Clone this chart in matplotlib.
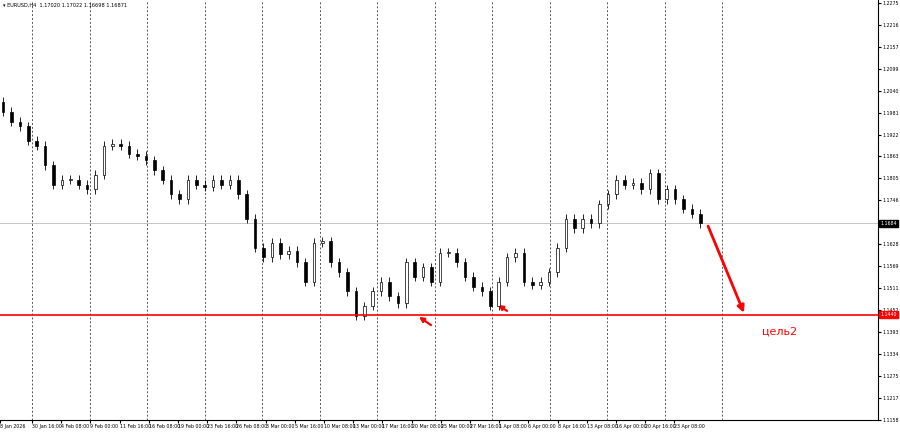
import matplotlib.pyplot as plt
from matplotlib.patches import Rectangle
import numpy as np

# H4 closes (EURUSD)
first_open = 1.2010
closes = [1.1983, 1.1957, 1.1944, 1.1905, 1.1892, 1.1840, 1.1788, 1.1801, 1.1801, 1.1788,
          1.1775, 1.1814, 1.1892, 1.1897, 1.1892, 1.1871, 1.1866, 1.1853, 1.1827, 1.1801,
          1.1762, 1.1749, 1.1801, 1.1788, 1.1783, 1.1801, 1.1788, 1.1801, 1.1762, 1.1697,
          1.1619, 1.1593, 1.1632, 1.1601, 1.1611, 1.1580, 1.1528, 1.1632, 1.1637, 1.1580,
          1.1554, 1.1502, 1.1437, 1.1463, 1.1502, 1.1528, 1.1489, 1.1471, 1.1580, 1.1541,
          1.1567, 1.1528, 1.1606, 1.1606, 1.1580, 1.1541, 1.1515, 1.1502, 1.1463, 1.1528,
          1.1593, 1.1606, 1.1528, 1.1520, 1.1528, 1.1554, 1.1619, 1.1697, 1.1671, 1.1697,
          1.1684, 1.1736, 1.1762, 1.1801, 1.1788, 1.1793, 1.1775, 1.1819, 1.1749, 1.1775,
          1.1749, 1.1723, 1.1710, 1.1684]
date_labels = ["8 Jan 2026", "30 Jan 16:00", "4 Feb 08:00", "9 Feb 00:00", "11 Feb 16:00",
               "16 Feb 08:00", "19 Feb 00:00", "23 Feb 16:00", "26 Feb 08:00", "3 Mar 00:00",
               "5 Mar 16:00", "10 Mar 08:00", "13 Mar 00:00", "17 Mar 16:00", "20 Mar 08:00",
               "25 Mar 00:00", "27 Mar 16:00", "1 Apr 08:00", "6 Apr 00:00", "8 Apr 16:00",
               "13 Apr 08:00", "16 Apr 00:00", "20 Apr 16:00", "23 Apr 08:00"]
target = 1.1440
last_price = 1.1684

fig = plt.figure(figsize=(9, 4.38), dpi=100)
ax = fig.add_axes([0, 18 / 438, 878 / 900, 420 / 438])
ax.set_xlim(0, 878)
ax.set_ylim(1.22824 - 420 * 0.00026, 1.22824)

step = 8.4
opens = [first_open] + closes[:-1]
for i, (o, c) in enumerate(zip(opens, closes)):
    x = 3 + i * step
    ax.vlines(x, min(o, c) - 0.0012, max(o, c) + 0.0012, color='black', lw=0.6, zorder=3)
    ax.add_patch(Rectangle((x - 1.3, min(o, c)), 2.6, max(abs(c - o), 0.0002),
                           facecolor='white' if c >= o else 'black', edgecolor='black', lw=0.5, zorder=4))

# grid / date ticks
grid_x = 32 + 57.5 * np.arange(13)
for gx in grid_x:
    ax.axvline(gx, color='#555555', ls=(0, (2, 2)), lw=0.7, zorder=1)
tick_x = [0] + list(32 + 29.2 * np.arange(len(date_labels) - 1))
ax.set_xticks(tick_x)
ax.set_xticklabels(date_labels, fontsize=3.4, ha='left')
ax.tick_params(axis='x', length=2, pad=1)

yt = 1.2275 - 0.00588 * np.arange(20)
ax.yaxis.tick_right()
ax.set_yticks(yt)
ax.set_yticklabels([f"{v:.4f}" for v in yt], fontsize=3.4)
ax.tick_params(axis='y', length=2, pad=1)
for s in ['top', 'left']:
    ax.spines[s].set_visible(False)

ax.axhline(target, color='red', lw=1.2, zorder=5)
ax.axhline(last_price, color='#bbbbbb', lw=0.6, zorder=1)
ax.text(880, target, f"{target:.4f}", fontsize=3.4, color='white', va='center', ha='left',
        clip_on=False, zorder=6, bbox=dict(boxstyle='square,pad=0.25', fc='red', ec='red'))
ax.text(880, last_price, f"{last_price:.4f}", fontsize=3.4, color='white', va='center', ha='left',
        clip_on=False, zorder=6, bbox=dict(boxstyle='square,pad=0.25', fc='black', ec='black'))

ax.annotate('', xy=(745, target - 0.0002), xytext=(707, last_price),
            arrowprops=dict(arrowstyle='-|>', color='red', lw=2, mutation_scale=10))
ax.text(762, target - 0.0052, 'цель2', color='red', fontsize=8)
ax.annotate('', xy=(419, 1.1434), xytext=(431, 1.1412),
            arrowprops=dict(arrowstyle='-|>', color='red', lw=1.6, mutation_scale=7,
                            shrinkA=0, shrinkB=0))
ax.annotate('', xy=(498, 1.1466), xytext=(507, 1.1450),
            arrowprops=dict(arrowstyle='-|>', color='red', lw=1.6, mutation_scale=7,
                            shrinkA=0, shrinkB=0))

ax.text(3, 1.22824 - 0.0008, "\u25be EURUSD,H4  1.17020 1.17022 1.16698 1.16871", fontsize=3.6, va='top')

fig.savefig('out.png')
